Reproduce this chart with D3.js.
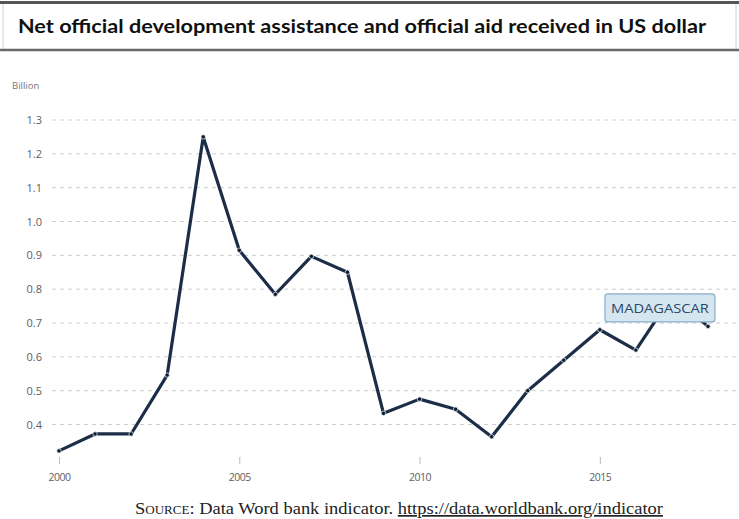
<!DOCTYPE html>
<html>
<head>
<meta charset="utf-8">
<script src="https://cdn.jsdelivr.net/npm/d3@7"></script>
<style>
body { margin: 0; background: #fff; }
svg { display: block; }
</style>
</head>
<body>
<svg id="chart" width="739" height="519"></svg>
<script>
var Years = [2000, 2001, 2002, 2003, 2004, 2005, 2006, 2007, 2008, 2009,
	2010, 2011, 2012, 2013, 2014, 2015, 2016, 2017, 2018];
var AidValues = [0.322, 0.372, 0.372, 0.546, 1.25, 0.915, 0.785, 0.897, 0.85, 0.433,
	0.475, 0.445, 0.364, 0.5, 0.59, 0.68, 0.62, 0.78, 0.69];
var YTicks = [0.4, 0.5, 0.6, 0.7, 0.8, 0.9, 1.0, 1.1, 1.2, 1.3];
var XTicks = [2000, 2005, 2010, 2015];
var TitleText = "Net official development assistance and official aid received in US dollar";
var CountryName = "MADAGASCAR";

var svg = d3.select("#chart");

// title box
svg.append("rect").attr("x", 3).attr("y", 2).attr("width", 733).attr("height", 48)
	.style("fill", "#fff").style("stroke", "#d0d0d0").style("stroke-width", 1);
svg.append("line").attr("x1", 0).attr("x2", 739).attr("y1", 2.5).attr("y2", 2.5)
	.style("stroke", "#555").style("stroke-width", 3);
svg.append("line").attr("x1", 0).attr("x2", 739).attr("y1", 50).attr("y2", 50)
	.style("stroke", "#6a6a6a").style("stroke-width", 2.5);
svg.append("text").attr("x", 18).attr("y", 33)
	.attr("textLength", 688).attr("lengthAdjust", "spacingAndGlyphs")
	.style("font-family", "Lato, 'Open Sans', sans-serif").style("font-weight", "bold")
	.style("font-size", "18px").style("fill", "#111")
	.text(TitleText);

var x = d3.scaleLinear().domain([2000, 2018]).range([59, 708]);
var y = d3.scaleLinear().domain([0.4, 1.3]).range([424.5, 120]);

// grid + y labels
var grid = svg.append("g");
grid.selectAll("line").data(YTicks).enter().append("line")
	.attr("x1", 52).attr("x2", 736)
	.attr("y1", function(d){ return y(d); }).attr("y2", function(d){ return y(d); })
	.style("stroke", "#cdcdcd").style("stroke-width", 1).style("stroke-dasharray", "4,4");
grid.selectAll("text").data(YTicks).enter().append("text")
	.attr("x", 42).attr("y", function(d){ return y(d) + 4; })
	.attr("text-anchor", "end")
	.style("font-family", "'Open Sans', sans-serif").style("font-size", "11px").style("fill", "#606060")
	.text(function(d){ return d.toFixed(1); });

svg.append("text").attr("x", 12).attr("y", 89)
	.style("font-family", "'Open Sans', sans-serif").style("font-size", "9.5px").style("fill", "#777")
	.text("Billion");

// x axis
var xAxis = d3.axisBottom(x).tickValues(XTicks).tickFormat(d3.format("d")).tickSize(7).tickPadding(10);
var xg = svg.append("g").attr("transform", "translate(0,457)").call(xAxis);
xg.select(".domain").remove();
xg.selectAll("line").style("stroke", "#bbb");
xg.selectAll("text").style("font-family", "'Open Sans', sans-serif").style("font-size", "10.5px")
	.style("fill", "#606060").attr("letter-spacing", "-0.5px");

// series line
var Points = Years.map(function(d, i){ return [d, AidValues[i]]; });
var line = d3.line().x(function(d){ return x(d[0]); }).y(function(d){ return y(d[1]); });
svg.append("path").datum(Points).attr("d", line)
	.style("fill", "none").style("stroke", "#1c2d47").style("stroke-width", 3.2)
	.style("stroke-linejoin", "round");
svg.append("g").selectAll("circle").data(Points).enter().append("circle")
	.attr("cx", function(d){ return x(d[0]); }).attr("cy", function(d){ return y(d[1]); })
	.attr("r", 2.2).style("fill", "#0f1a2c").style("stroke", "#e0e6ee").style("stroke-width", 0.8);

// country label on 2017 point
var LastX = x(Years[17]), LastY = y(AidValues[17]);
var lab = svg.append("g").attr("transform", "translate(" + (LastX - 12) + "," + (LastY + 12) + ")");
lab.append("rect").attr("x", -55).attr("y", -14).attr("width", 110).attr("height", 28).attr("rx", 3)
	.style("fill", "#d5e6f1").style("stroke", "#86aec8").style("stroke-width", 1.2);
lab.append("text").attr("x", 0).attr("y", 5).attr("text-anchor", "middle")
	.attr("textLength", 98).attr("lengthAdjust", "spacingAndGlyphs")
	.style("font-family", "'Open Sans', sans-serif").style("font-size", "13px").style("fill", "#2a4868")
	.text(CountryName);

// source note
var src = svg.append("text").attr("x", 399).attr("y", 514).attr("text-anchor", "middle")
	.attr("textLength", 528).attr("lengthAdjust", "spacingAndGlyphs")
	.style("font-family", "'Liberation Serif', 'DejaVu Serif', serif").style("font-size", "17px").style("fill", "#222");
src.append("tspan").style("font-variant", "small-caps").text("Source");
src.append("tspan").text(": Data Word bank indicator. ");
src.append("tspan").style("text-decoration", "underline").text("https://data.worldbank.org/indicator");
</script>
</body>
</html>
